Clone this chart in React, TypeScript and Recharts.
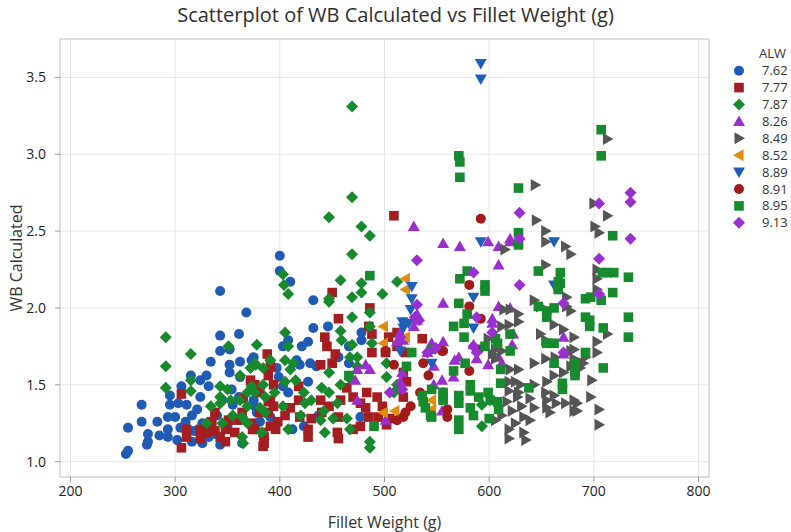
import {
  ScatterChart,
  Scatter,
  XAxis,
  YAxis,
  CartesianGrid,
  ReferenceArea,
} from "recharts";

type Pt = [number, number];

// Fillet weight (g), WB calculated — one list per ALW group
const alw762: Pt[] = [
  [343, 2.11], [368, 1.97], [343, 1.82], [361, 1.83], [343, 1.72], [352, 1.73], [334, 1.65], [352, 1.63],
  [352, 1.58], [362, 1.65], [375, 1.68], [362, 1.55], [268, 1.37], [255, 1.22], [268, 1.26], [274, 1.18],
  [274, 1.13], [273, 1.11], [255, 1.07], [253, 1.05], [295, 1.43], [295, 1.37], [293, 1.29], [300, 1.29],
  [293, 1.21], [293, 1.16], [306, 1.49], [303, 1.38], [311, 1.37], [305, 1.22], [302, 1.14], [316, 1.3],
  [321, 1.34], [324, 1.42], [324, 1.53], [316, 1.13], [326, 1.25], [330, 1.21], [326, 1.12], [332, 1.16],
  [343, 1.11], [332, 1.49], [354, 1.47], [361, 1.42], [364, 1.12], [350, 1.23], [378, 1.32], [381, 1.26],
  [397, 1.61], [399, 1.55], [400, 2.34], [400, 2.24], [410, 2.17], [432, 2.05], [432, 1.87], [446, 1.88],
  [478, 1.84], [478, 1.79], [408, 1.79], [403, 1.75], [421, 1.75], [427, 1.78], [416, 1.66], [419, 1.63],
  [429, 1.64], [435, 1.62], [456, 1.68], [466, 1.75], [466, 1.64], [373, 1.66], [427, 1.52], [403, 1.49],
  [408, 1.45], [375, 1.4], [376, 1.36], [391, 1.29], [397, 1.25], [412, 1.21], [437, 1.3], [423, 1.23],
  [477, 1.29], [283, 1.26], [285, 1.17], [310, 1.26], [340, 1.3], [345, 1.4], [315, 1.56], [330, 1.56],
  [318, 1.2], [338, 1.18], [355, 1.37],
];

const alw777: Pt[] = [
  [306, 1.44], [311, 1.21], [311, 1.16], [306, 1.09], [324, 1.21], [324, 1.15], [338, 1.2], [348, 1.21],
  [348, 1.13], [343, 1.16], [338, 1.32], [351, 1.27], [365, 1.41], [364, 1.32], [374, 1.21], [373, 1.25],
  [385, 1.12], [385, 1.16], [388, 1.7], [391, 1.62], [389, 1.56], [394, 1.5], [389, 1.39], [389, 1.32],
  [396, 1.21], [372, 1.53], [509, 2.6], [450, 2.1], [456, 1.93], [486, 2.0], [485, 1.88], [443, 1.81],
  [445, 1.75], [453, 1.7], [450, 1.64], [439, 1.63], [488, 1.83], [488, 1.71], [504, 1.81], [512, 1.84],
  [536, 1.8], [376, 1.5], [381, 1.45], [391, 1.4], [394, 1.36], [381, 1.32], [391, 1.23], [376, 1.21],
  [384, 1.19], [384, 1.1], [418, 1.49], [418, 1.4], [419, 1.29], [427, 1.21], [427, 1.16], [439, 1.4],
  [447, 1.36], [440, 1.32], [458, 1.4], [456, 1.29], [455, 1.19], [456, 1.15], [464, 1.48], [470, 1.42],
  [477, 1.38], [483, 1.45], [482, 1.35], [485, 1.29], [477, 1.23], [470, 1.21], [493, 1.42], [498, 1.36],
  [494, 1.29], [505, 1.28], [502, 1.24], [518, 1.58], [521, 1.52], [515, 1.49], [518, 1.42], [512, 1.75],
  [520, 1.71], [501, 1.71], [330, 1.19], [335, 1.26], [357, 1.19], [360, 1.27], [398, 1.26], [405, 1.3],
  [410, 1.35], [430, 1.28],
];

const alw787: Pt[] = [
  [291, 1.81], [291, 1.62], [291, 1.48], [315, 1.7], [315, 1.53], [315, 1.46], [351, 1.75], [378, 1.76],
  [377, 1.63], [372, 1.61], [362, 1.56], [343, 1.49], [350, 1.47], [343, 1.42], [334, 1.36], [345, 1.25],
  [343, 1.38], [353, 1.4], [362, 1.4], [369, 1.45], [373, 1.49], [369, 1.36], [364, 1.29], [369, 1.25],
  [364, 1.16], [365, 1.12], [384, 1.5], [386, 1.42], [381, 1.35], [383, 1.19], [469, 3.31], [469, 2.72],
  [447, 2.59], [478, 2.53], [486, 2.47], [469, 2.35], [403, 2.22], [404, 2.15], [408, 2.09], [458, 2.18],
  [478, 2.16], [478, 2.1], [447, 2.06], [447, 2.04], [469, 2.07], [498, 2.09], [512, 2.17], [469, 1.94],
  [405, 1.84], [408, 1.75], [458, 1.85], [459, 1.79], [469, 1.76], [486, 1.97], [486, 1.88], [488, 1.77],
  [376, 1.64], [384, 1.61], [391, 1.66], [405, 1.66], [413, 1.64], [410, 1.6], [415, 1.53], [405, 1.52],
  [376, 1.45], [423, 1.45], [440, 1.48], [458, 1.5], [447, 1.58], [447, 1.45], [455, 1.38], [467, 1.68],
  [474, 1.68], [474, 1.62], [467, 1.54], [424, 1.38], [403, 1.36], [386, 1.32], [442, 1.33], [451, 1.28],
  [439, 1.27], [464, 1.28], [467, 1.21], [443, 1.19], [486, 1.13], [486, 1.09], [408, 1.21], [502, 1.64],
  [502, 1.55], [512, 1.5], [509, 1.45], [545, 1.74], [593, 1.37], [593, 1.23], [330, 1.25], [355, 1.3],
  [395, 1.45], [420, 1.3], [430, 1.4],
];

const alw826: Pt[] = [
  [528, 2.53], [556, 2.42], [556, 2.03], [531, 1.96], [531, 1.92], [528, 1.88], [515, 1.84], [518, 1.79],
  [512, 1.78], [482, 1.63], [474, 1.6], [486, 1.6], [472, 1.53], [515, 1.52], [541, 1.71], [545, 1.77],
  [556, 1.78], [547, 1.62], [547, 1.5], [555, 1.53], [501, 1.27], [555, 1.33], [517, 1.58], [474, 1.4],
  [572, 2.4], [599, 2.43], [609, 2.4], [620, 2.43], [609, 2.28], [609, 2.01], [620, 2.0], [603, 1.93],
  [603, 1.9], [623, 1.83], [622, 1.76], [567, 1.66], [571, 1.68], [566, 1.55], [609, 1.68], [599, 1.63],
  [612, 1.64], [671, 1.81], [671, 1.7], [585, 1.76], [588, 1.67], [620, 2.45],
];

const alw849: Pt[] = [
  [645, 2.57], [654, 2.5], [654, 2.43], [673, 2.4], [678, 2.35], [615, 2.38], [654, 2.28], [643, 2.05],
  [649, 2.01], [674, 2.07], [674, 2.01], [614, 1.99], [620, 1.99], [628, 1.96], [628, 1.91], [612, 1.88],
  [619, 1.89], [662, 1.89], [671, 1.86], [649, 1.83], [654, 1.79], [681, 1.81], [599, 1.8], [606, 1.73],
  [612, 1.72], [606, 1.67], [603, 1.7], [643, 1.64], [654, 1.67], [663, 1.68], [681, 1.73], [681, 1.67],
  [671, 1.58], [678, 1.62], [692, 1.68], [690, 1.64], [620, 1.6], [628, 1.6], [643, 1.5], [655, 1.52],
  [654, 1.45], [662, 1.56], [619, 1.52], [625, 1.52], [630, 1.5], [628, 1.45], [619, 1.46], [617, 1.39],
  [622, 1.33], [631, 1.36], [633, 1.29], [639, 1.27], [625, 1.25], [619, 1.21], [619, 1.15], [633, 1.19],
  [635, 1.14], [606, 1.27], [604, 1.4], [655, 1.4], [655, 1.35], [658, 1.32], [662, 1.43], [664, 1.38],
  [681, 1.4], [684, 1.33], [643, 1.35], [639, 1.41], [713, 3.1], [700, 2.68], [713, 2.6], [701, 2.53],
  [705, 2.49], [703, 2.25], [703, 2.19], [678, 1.98], [703, 2.12], [703, 1.78], [703, 1.71], [713, 1.83],
  [678, 1.72], [687, 1.61], [698, 1.53], [697, 1.42], [673, 1.38], [684, 1.38], [681, 1.33], [705, 1.34],
  [705, 1.24], [644, 2.8], [612, 1.3], [627, 1.42],
];

const alw852: Pt[] = [
  [520, 2.19], [520, 2.12], [499, 1.88], [499, 1.77], [520, 1.81], [545, 1.4], [545, 1.34], [499, 1.32],
  [510, 1.33],
];

const alw889: Pt[] = [
  [592, 3.59], [592, 3.49], [592, 2.43], [662, 2.43], [526, 2.14], [526, 2.06], [525, 1.99], [517, 1.91],
  [518, 1.87], [523, 1.9], [515, 1.72], [545, 1.64], [585, 2.07], [662, 2.15], [585, 1.87],
];

const alw891: Pt[] = [
  [592, 2.58], [501, 1.72], [509, 1.63], [537, 1.64], [555, 1.72], [542, 1.56], [534, 1.45], [525, 1.36],
  [518, 1.29], [512, 1.27], [520, 1.32], [581, 2.15], [581, 2.01], [592, 1.93], [556, 1.72], [581, 1.59],
  [556, 1.45], [560, 1.34], [560, 1.29], [590, 1.73],
];

const alw895: Pt[] = [
  [571, 2.99], [572, 2.95], [572, 2.85], [628, 2.78], [628, 2.49], [707, 3.16], [707, 2.99], [718, 2.47],
  [713, 2.23], [719, 2.23], [708, 2.23], [733, 2.2], [718, 2.1], [692, 2.06], [697, 2.07], [707, 2.05],
  [733, 1.94], [692, 1.94], [696, 1.92], [696, 1.88], [709, 1.87], [733, 1.81], [692, 1.71], [682, 1.64],
  [682, 1.59], [682, 1.56], [709, 1.61], [670, 1.51], [670, 1.47], [668, 2.23], [668, 2.16], [628, 2.41],
  [572, 2.19], [579, 2.24], [596, 2.15], [596, 2.11], [647, 2.24], [666, 2.17], [666, 2.12], [571, 2.03],
  [647, 2.01], [655, 1.98], [655, 1.94], [662, 2.0], [579, 1.96], [576, 1.9], [566, 1.88], [576, 1.81],
  [606, 1.8], [608, 1.77], [596, 1.75], [620, 1.83], [620, 1.72], [655, 1.77], [662, 1.77], [662, 1.64],
  [545, 1.73], [577, 1.64], [566, 1.59], [611, 1.6], [582, 1.5], [582, 1.46], [571, 1.43], [571, 1.38],
  [571, 1.27], [571, 1.21], [556, 1.45], [556, 1.4], [599, 1.45], [601, 1.4], [608, 1.39], [609, 1.34],
  [611, 1.51], [638, 1.48], [582, 1.35], [545, 1.29], [486, 2.21], [526, 1.71], [521, 1.62], [536, 1.43],
  [537, 1.39], [539, 1.35], [544, 1.3], [556, 1.42], [466, 1.56], [490, 1.23], [545, 1.47], [585, 1.3],
  [600, 1.28], [590, 1.42],
];

const alw913: Pt[] = [
  [531, 2.31], [531, 2.02], [529, 1.94], [533, 1.92], [541, 1.71], [549, 1.74], [515, 1.81], [517, 1.47],
  [505, 1.45], [629, 2.62], [629, 2.45], [585, 2.23], [629, 2.15], [588, 1.94], [603, 1.84], [585, 1.75],
  [588, 1.71], [671, 2.03], [671, 1.71], [735, 2.75], [735, 2.69], [705, 2.68], [735, 2.45], [705, 2.32],
  [705, 2.09],
];

const xTicks = [200, 300, 400, 500, 600, 700, 800];
const yTicks = [1.0, 1.5, 2.0, 2.5, 3.0, 3.5];

type Kind = "circle" | "square" | "diamond" | "up" | "right" | "left" | "down";

const groups: { name: string; points: Pt[]; color: string; kind: Kind }[] = [
  { name: "7.62", points: alw762, color: "#1f5bb4", kind: "circle" },
  { name: "7.77", points: alw777, color: "#a31d21", kind: "square" },
  { name: "7.87", points: alw787, color: "#168a2c", kind: "diamond" },
  { name: "8.26", points: alw826, color: "#9b2fce", kind: "up" },
  { name: "8.49", points: alw849, color: "#555555", kind: "right" },
  { name: "8.52", points: alw852, color: "#e08c0c", kind: "left" },
  { name: "8.89", points: alw889, color: "#1f5fb8", kind: "down" },
  { name: "8.91", points: alw891, color: "#a11b1b", kind: "circle" },
  { name: "8.95", points: alw895, color: "#168a2d", kind: "square" },
  { name: "9.13", points: alw913, color: "#9b2ecf", kind: "diamond" },
];

const FONT = "'Open Sans', 'Noto Sans', sans-serif";

function marker(kind: Kind, cx: number, cy: number, color: string) {
  const s = 6;
  const b = 4.5;
  switch (kind) {
    case "circle":
      return <circle cx={cx} cy={cy} r={5} fill={color} />;
    case "square":
      return <rect x={cx - 4.8} y={cy - 4.8} width={9.6} height={9.6} fill={color} />;
    case "diamond":
      return (
        <polygon
          points={`${cx},${cy - s} ${cx + s},${cy} ${cx},${cy + s} ${cx - s},${cy}`}
          fill={color}
        />
      );
    case "up":
      return (
        <polygon
          points={`${cx},${cy - s} ${cx + s},${cy + b} ${cx - s},${cy + b}`}
          fill={color}
        />
      );
    case "down":
      return (
        <polygon
          points={`${cx},${cy + s} ${cx + s},${cy - b} ${cx - s},${cy - b}`}
          fill={color}
        />
      );
    case "right":
      return (
        <polygon
          points={`${cx + s},${cy} ${cx - b},${cy - s} ${cx - b},${cy + s}`}
          fill={color}
        />
      );
    case "left":
      return (
        <polygon
          points={`${cx - s},${cy} ${cx + b},${cy - s} ${cx + b},${cy + s}`}
          fill={color}
        />
      );
  }
}

function LegendBox() {
  return (
    <svg
      width={62}
      height={200}
      style={{ position: "absolute", left: 728, top: 44, fontFamily: FONT }}
    >
      <text x={31} y={14} fontSize={13} fill="#333">
        ALW
      </text>
      {groups.map((g, i) => {
        const y = 26.7 + i * 16.9;
        return (
          <g key={g.name}>
            {marker(g.kind, 11, y, g.color)}
            <text x={34} y={y + 4.5} fontSize={13} fill="#333">
              {g.name}
            </text>
          </g>
        );
      })}
    </svg>
  );
}

export default function App() {
  return (
    <div
      style={{
        position: "absolute",
        left: 0,
        top: 0,
        width: 791,
        height: 532,
        background: "#fff",
        fontFamily: FONT,
      }}
    >
      <div
        style={{
          position: "absolute",
          top: 1,
          left: 0,
          width: 791,
          textAlign: "center",
          fontSize: 20,
          color: "#2e2e2e",
        }}
      >
        Scatterplot of WB Calculated vs Fillet Weight (g)
      </div>
      <ScatterChart
        width={791}
        height={532}
        margin={{ top: 39, right: 82, bottom: 0, left: 0 }}
      >
        <CartesianGrid stroke="#e6e6e6" horizontalValues={yTicks} verticalValues={xTicks} />
        <XAxis
          type="number"
          dataKey="x"
          domain={[190, 810]}
          ticks={xTicks}
          height={55}
          tickSize={5}
          tickMargin={4}
          axisLine={false}
          tickLine={{ stroke: "#999" }}
          tick={{ fontSize: 14, fill: "#222", fontFamily: FONT }}
          label={{
            value: "Fillet Weight (g)",
            position: "insideBottom",
            offset: 4,
            style: { fontSize: 16, fill: "#333", fontFamily: FONT },
          }}
        />
        <YAxis
          type="number"
          dataKey="y"
          domain={[0.9, 3.75]}
          ticks={yTicks}
          width={60}
          tickSize={5}
          tickMargin={9}
          axisLine={false}
          tickLine={{ stroke: "#999" }}
          tickFormatter={(v: number) => v.toFixed(1)}
          tick={{ fontSize: 14, fill: "#222", fontFamily: FONT }}
          label={{
            value: "WB Calculated",
            angle: -90,
            position: "insideLeft",
            offset: 16,
            style: { fontSize: 16, fill: "#333", fontFamily: FONT, textAnchor: "middle" },
          }}
        />
        <ReferenceArea
          x1={190}
          x2={810}
          y1={0.9}
          y2={3.75}
          fill="none"
          stroke="#bdbdbd"
          strokeWidth={1}
        />
        {groups.map((g) => (
          <Scatter
            key={g.name}
            name={g.name}
            data={g.points.map(([x, y]) => ({ x, y }))}
            fill={g.color}
            isAnimationActive={false}
            shape={(p: any) => marker(g.kind, p.cx, p.cy, g.color)}
          />
        ))}
      </ScatterChart>
      <LegendBox />
    </div>
  );
}
